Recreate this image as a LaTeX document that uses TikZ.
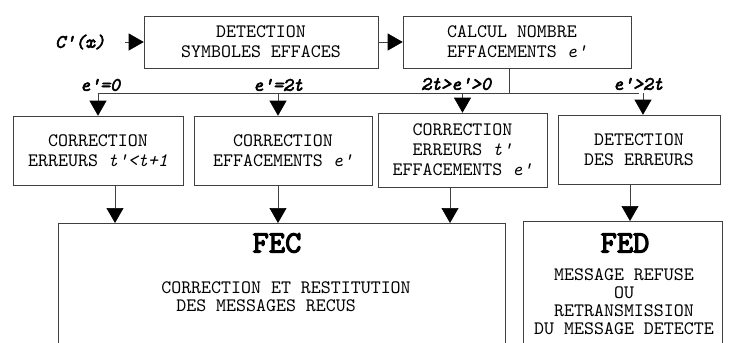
\documentclass[tikz,border=0pt]{standalone}
\usepackage{fontspec}
\setmonofont{lmmono10-regular.otf}[ItalicFont=lmmono10-italic.otf,
  BoldFont=lmmono10-regular.otf, BoldFeatures={FakeBold=3.5},
  BoldItalicFont=lmmono10-italic.otf, BoldItalicFeatures={FakeBold=3}]
\usetikzlibrary{arrows.meta}
\usetikzlibrary{calc}

\tikzset{
  box/.style={draw=black!75, line width=0.6pt, align=center, inner sep=0pt,
    font=\fontsize{19}{20}\selectfont\ttfamily},
  cond/.style={font=\fontsize{19}{20}\selectfont\ttfamily\bfseries\itshape},
  title/.style={font=\fontsize{31}{32}\selectfont\ttfamily\bfseries},
  note/.style={align=center, font=\fontsize{19}{18}\selectfont\ttfamily},
  wire/.style={draw=black!75, line width=0.6pt},
  flow/.style={wire, -{Triangle[length=15pt,width=17pt,color=black]}}
}

\begin{document}
\begin{tikzpicture}[x=1pt,y=1pt]
                \useasboundingbox (0,0) rectangle (732,-343);
                \clip (0,0) rectangle (732,-343);
                % first row
                \node[cond] (CX) at (80,-42) {C'(x)};
                \coordinate (CXE) at (125,-42);
                \node[box, minimum width=234pt, minimum height=52pt] (DETS) at (261,-42) {DETECTION\\SYMBOLES EFFACES};
                \node[box, minimum width=228pt, minimum height=52pt, align=left] (CALC) at (517,-42) {CALCUL NOMBRE\\EFFACEMENTS \textit{e'}};
                \draw[flow] (CXE) to (DETS);
                \draw[flow] (DETS) to (CALC);
                % second row
                \node[box, minimum width=170pt, minimum height=69pt] (CORA) at (98,-150.5) {CORRECTION\\ERREURS \textit{t'<t+1}};
                \node[box, minimum width=178pt, minimum height=69pt] (CORB) at (283,-150.5) {CORRECTION\\EFFACEMENTS \textit{e'}};
                \node[box, minimum width=169pt, minimum height=74pt] (CORC) at (462.5,-150) {CORRECTION\\ERREURS \textit{t'}\\EFFACEMENTS \textit{e'}};
                \node[box, minimum width=162pt, minimum height=69pt] (DETE) at (639,-149.5) {DETECTION\\DES ERREURS};
                \coordinate (BUS) at (509,-93);
                \draw[wire] (CALC.south -| BUS) to (BUS);
                \draw[wire] (CORA.north |- BUS) to (DETE.north |- BUS);
                \node[cond] (EA) at (100,-85) {e'=0};
                \node[cond] (EB) at (278,-85) {e'=2t};
                \node[cond] (EC) at (456,-84) {2t>e'>0};
                \node[cond] (ED) at (638,-84) {e'>2t};
                \draw[flow] (CORA.north |- BUS) to (CORA.north);
                \draw[flow] ([xshift=-5pt]CORB.north |- BUS) to ([xshift=-5pt]CORB.north);
                \draw[flow] (CORC.north |- BUS) to (CORC.north);
                \draw[flow] ([xshift=4pt]DETE.north |- BUS) to ([xshift=4pt]DETE.north);
                % third row
                \node[box, minimum width=447pt, minimum height=150pt, anchor=north] (FEC) at (281.5,-223) {};
                \node[box, minimum width=199pt, minimum height=150pt, anchor=north] (FED) at (622.5,-221) {};
                \node[title] (FECT) at (277,-243) {FEC};
                \node[note, align=left] (FECM) at (286,-297) {CORRECTION ET RESTITUTION\\\hspace{15pt}DES MESSAGES RECUS};
                \node[title] (FEDT) at (625,-243) {FED};
                \node[note] (FEDM) at (624,-302) {MESSAGE REFUSE\\OU\\RETRANSMISSION\\DU MESSAGE DETECTE};
                \draw[flow] ([xshift=17pt]CORA.south) to ([xshift=17pt]CORA.south |- FEC.north);
                \draw[flow] ([xshift=-5pt]CORB.south) to ([xshift=-5pt]CORB.south |- FEC.north);
                \draw[flow] ([xshift=-12.5pt]CORC.south) to ([xshift=-12.5pt]CORC.south |- FEC.north);
                \draw[flow] ([xshift=-9pt]DETE.south) to ([xshift=-9pt]DETE.south |- FED.north);
            \end{tikzpicture}
\end{document}
